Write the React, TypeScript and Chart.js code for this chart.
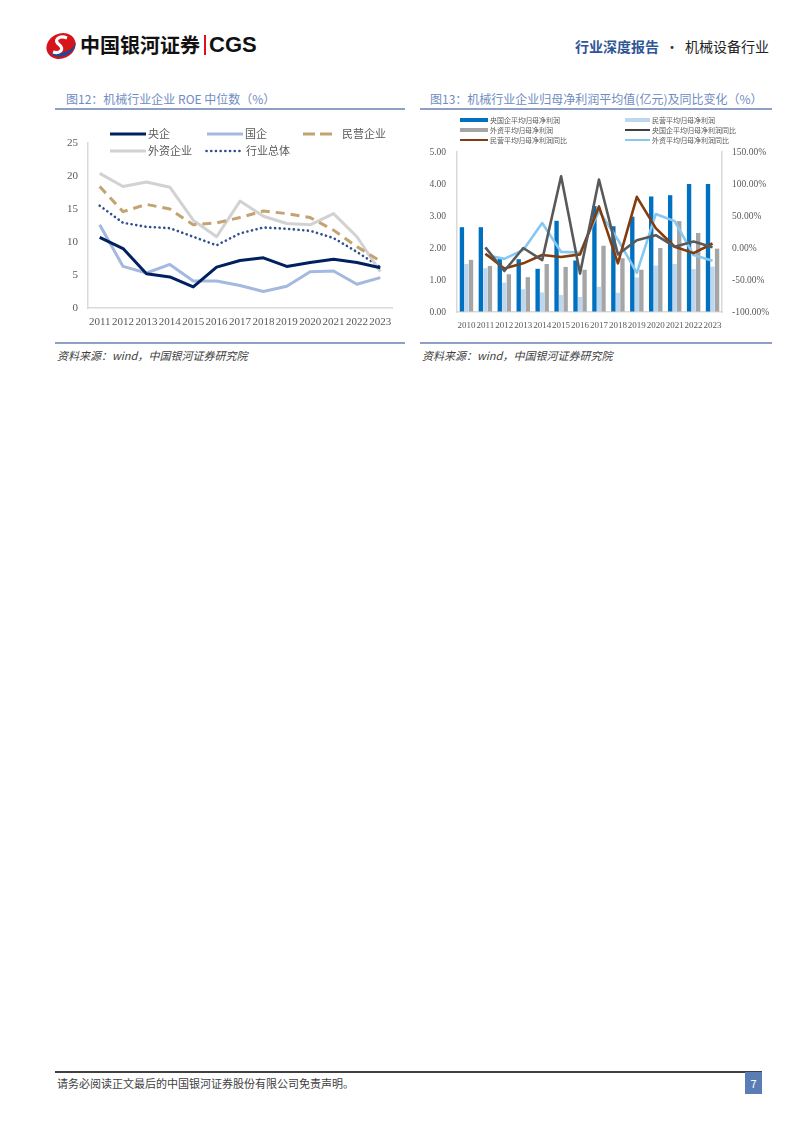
import React, { useEffect, useRef } from "react";
import { Chart, registerables } from "chart.js";
Chart.register(...registerables);

// ---------- Chart 1 data: ROE median (%) ----------
const roeYears = ["2011", "2012", "2013", "2014", "2015", "2016", "2017", "2018", "2019", "2020", "2021", "2022", "2023"];
const roeCentral = [10.7, 9.0, 5.2, 4.7, 3.2, 6.2, 7.2, 7.6, 6.3, 6.9, 7.4, 6.9, 6.1];
const roeState = [12.6, 6.3, 5.3, 6.6, 4.1, 4.1, 3.4, 2.5, 3.3, 5.5, 5.6, 3.6, 4.6];
const roePrivate = [18.4, 14.6, 15.7, 15.0, 12.6, 12.9, 13.7, 14.7, 14.3, 13.7, 11.8, 9.3, 7.1];
const roeForeign = [20.4, 18.4, 19.1, 18.3, 13.3, 10.8, 16.2, 13.9, 12.8, 12.6, 14.3, 10.8, 5.5];
const roeTotal = [15.5, 12.9, 12.3, 12.1, 10.8, 9.5, 11.3, 12.2, 12.0, 11.7, 10.6, 8.5, 6.2];
const roeTicks = [0, 5, 10, 15, 20, 25];

// ---------- Chart 2 data: avg net profit (亿元) and YoY (%) ----------
const npYears = ["2010", "2011", "2012", "2013", "2014", "2015", "2016", "2017", "2018", "2019", "2020", "2021", "2022", "2023"];
const npCentral = [2.65, 2.65, 1.68, 1.65, 1.35, 2.85, 1.61, 3.31, 2.68, 2.98, 3.61, 3.65, 4.0, 4.0];
const npPrivate = [1.5, 1.37, 0.92, 0.71, 0.61, 0.53, 0.47, 0.79, 0.6, 1.08, 1.45, 1.5, 1.34, 1.42];
const npForeign = [1.63, 1.44, 1.18, 1.09, 1.5, 1.41, 1.32, 2.07, 1.68, 1.32, 2.0, 2.84, 2.47, 1.98];
const yoyCentral = [null, 1, -36, 0, -19, 112, -40, 107, -10, 12, 20, 2, 10, 1];
const yoyPrivate = [null, -9, -32, -24, -11, -14, -10, 65, -24, 80, 31, 2, -8, 7];
const yoyForeign = [null, -11, -17, -3, 39, -6, -7, 58, 13, -39, 53, 42, -11, -20];
const leftTicks = [0, 1, 2, 3, 4, 5];
const rightTicks = [-100, -50, 0, 50, 100, 150];

const SERIF = "'Liberation Serif', 'Noto Sans CJK SC', serif";
const CJK = "'Noto Sans CJK SC', sans-serif";

Chart.defaults.font.family = SERIF;

function useChart(ref: React.RefObject<HTMLCanvasElement>, makeConfig: () => any) {
  useEffect(() => {
    if (!ref.current) return;
    const chart = new Chart(ref.current, makeConfig());
    return () => chart.destroy();
  }, []);
}

function RoeChart() {
  const ref = useRef<HTMLCanvasElement>(null);
  useChart(ref, () => ({
    type: "line",
    data: {
      labels: roeYears,
      datasets: [
        { label: "央企", data: roeCentral, borderColor: "#002060", borderWidth: 3 },
        { label: "国企", data: roeState, borderColor: "#A4B9DF", borderWidth: 3 },
        { label: "民营企业", data: roePrivate, borderColor: "#C4A372", borderWidth: 3, borderDash: [9, 6] },
        { label: "外资企业", data: roeForeign, borderColor: "#D2D2D2", borderWidth: 3 },
        { label: "行业总体", data: roeTotal, borderColor: "#2F4F8F", borderWidth: 2.6, borderDash: [0.1, 4.6], borderCapStyle: "round" },
      ],
    },
    options: {
      animation: false,
      responsive: false,
      events: [],
      layout: { padding: { top: 28, right: 13, left: 0, bottom: 0 } },
      plugins: { legend: { display: false }, tooltip: { enabled: false } },
      elements: { point: { radius: 0 }, line: { tension: 0, borderJoinStyle: "round" } },
      scales: {
        x: {
          offset: true,
          grid: { display: true, drawOnChartArea: false, drawTicks: false },
          border: { color: "#D9D9D9", width: 1.5 },
          ticks: { color: "#595959", font: { size: 11, family: SERIF }, padding: 8, autoSkip: false, maxRotation: 0 },
          afterFit: (s: any) => { s.height = 32; },
        },
        y: {
          min: 0,
          max: 25,
          afterBuildTicks: (s: any) => { s.ticks = roeTicks.map((v) => ({ value: v })); },
          grid: { display: true, drawOnChartArea: false, drawTicks: false },
          border: { color: "#D9D9D9", width: 1.5 },
          ticks: { color: "#595959", font: { size: 11, family: SERIF }, padding: 10 },
          afterFit: (s: any) => { s.width = 33; },
        },
      },
    },
  }));
  return <canvas ref={ref} width={350} height={225} />;
}

function ProfitChart() {
  const ref = useRef<HTMLCanvasElement>(null);
  useChart(ref, () => ({
    type: "bar",
    data: {
      labels: npYears,
      datasets: [
        { type: "line", label: "央国企平均归母净利润同比", data: yoyCentral, yAxisID: "y1", borderColor: "#595959", borderWidth: 2.6, order: 0 },
        { type: "line", label: "民营平均归母净利润同比", data: yoyPrivate, yAxisID: "y1", borderColor: "#843C0C", borderWidth: 2.6, order: 0 },
        { type: "line", label: "外资平均归母净利润同比", data: yoyForeign, yAxisID: "y1", borderColor: "#86C8F2", borderWidth: 2.6, order: 0 },
        { type: "bar", label: "央国企平均归母净利润", data: npCentral, yAxisID: "y", backgroundColor: "#0070C0", order: 1 },
        { type: "bar", label: "民营平均归母净利润", data: npPrivate, yAxisID: "y", backgroundColor: "#BDD7EE", order: 1 },
        { type: "bar", label: "外资平均归母净利润", data: npForeign, yAxisID: "y", backgroundColor: "#A5A5A5", order: 1 },
      ],
    },
    options: {
      animation: false,
      responsive: false,
      events: [],
      layout: { padding: { top: 37, right: 0, left: 0, bottom: 0 } },
      plugins: { legend: { display: false }, tooltip: { enabled: false } },
      elements: { point: { radius: 0 }, line: { tension: 0, borderJoinStyle: "round" } },
      datasets: { bar: { categoryPercentage: 0.72, barPercentage: 0.96 } },
      scales: {
        x: {
          offset: true,
          grid: { display: true, drawOnChartArea: false, drawTicks: false, offset: true },
          border: { color: "#D9D9D9", width: 1.5 },
          ticks: { color: "#595959", font: { size: 9, family: SERIF }, padding: 8, autoSkip: false, maxRotation: 0 },
          afterFit: (s: any) => { s.height = 28; },
        },
        y: {
          position: "left",
          min: 0,
          max: 5,
          afterBuildTicks: (s: any) => { s.ticks = leftTicks.map((v) => ({ value: v })); },
          grid: { display: true, drawOnChartArea: false, drawTicks: false },
          border: { color: "#D9D9D9", width: 1.5 },
          ticks: { color: "#595959", font: { size: 9.5, family: SERIF }, padding: 11, callback: (v: any) => Number(v).toFixed(2) },
          afterFit: (s: any) => { s.width = 37; },
        },
        y1: {
          position: "right",
          min: -100,
          max: 150,
          afterBuildTicks: (s: any) => { s.ticks = rightTicks.map((v) => ({ value: v })); },
          grid: { display: true, drawOnChartArea: false, drawTicks: false },
          border: { color: "#D9D9D9", width: 1.5 },
          ticks: { color: "#595959", font: { size: 9.5, family: SERIF }, padding: 10, callback: (v: any) => Number(v).toFixed(2) + "%" },
          afterFit: (s: any) => { s.width = 50; },
        },
      },
    },
  }));
  return <canvas ref={ref} width={352} height={225} />;
}

type LegendItem = { x: number; y: number; w: number; tx: number; label: string; kind: "line" | "dash" | "dot" | "bar"; color: string; thick?: number; size?: number };

function Legend({ items }: { items: LegendItem[] }) {
  return (
    <>
      {items.map((it, i) => (
        <React.Fragment key={i}>
          <svg style={{ position: "absolute", left: it.x, top: it.y - 4, width: it.w, height: 8 }} width={it.w} height={8}>
            {it.kind === "bar" ? (
              <rect x={0} y={2} width={it.w} height={4} fill={it.color} />
            ) : (
              <line
                x1={it.kind === "dot" ? 1.5 : 0}
                y1={4}
                x2={it.w}
                y2={4}
                stroke={it.color}
                strokeWidth={it.thick || 3}
                strokeDasharray={it.kind === "dash" ? "12 5" : it.kind === "dot" ? "0.1 4.6" : undefined}
                strokeLinecap={it.kind === "dot" ? "round" : "butt"}
              />
            )}
          </svg>
          <div
            style={{
              position: "absolute",
              left: it.tx,
              top: it.y - (it.size || 11) * 0.7,
              fontSize: it.size || 11,
              lineHeight: `${Math.round((it.size || 11) * 1.4)}px`,
              fontFamily: CJK,
              color: "#595959",
              whiteSpace: "nowrap",
            }}
          >
            {it.label}
          </div>
        </React.Fragment>
      ))}
    </>
  );
}

const legend1: LegendItem[] = [
  { x: 110, y: 134, w: 36, tx: 148, label: "央企", kind: "line", color: "#002060" },
  { x: 207, y: 134, w: 36, tx: 245, label: "国企", kind: "line", color: "#A4B9DF" },
  { x: 303, y: 134, w: 30, tx: 342, label: "民营企业", kind: "dash", color: "#C4A372" },
  { x: 110, y: 151, w: 36, tx: 148, label: "外资企业", kind: "line", color: "#D2D2D2" },
  { x: 205, y: 151, w: 37, tx: 246, label: "行业总体", kind: "dot", color: "#2F4F8F", thick: 2.6 },
];

const legend2: LegendItem[] = [
  { x: 460, y: 120, w: 28, tx: 490, label: "央国企平均归母净利润", kind: "bar", color: "#0070C0", size: 7 },
  { x: 625, y: 120, w: 25, tx: 652, label: "民营平均归母净利润", kind: "bar", color: "#BDD7EE", size: 7 },
  { x: 460, y: 130, w: 28, tx: 490, label: "外资平均归母净利润", kind: "bar", color: "#A5A5A5", size: 7 },
  { x: 625, y: 130, w: 25, tx: 652, label: "央国企平均归母净利润同比", kind: "line", color: "#404040", thick: 2, size: 7 },
  { x: 460, y: 140, w: 28, tx: 490, label: "民营平均归母净利润同比", kind: "line", color: "#843C0C", thick: 2, size: 7 },
  { x: 625, y: 140, w: 25, tx: 652, label: "外资平均归母净利润同比", kind: "line", color: "#86C8F2", thick: 2, size: 7 },
];

function abs(left: number, top: number, extra: React.CSSProperties = {}): React.CSSProperties {
  return { position: "absolute", left, top, ...extra };
}

export default function App() {
  const titleStyle: React.CSSProperties = { fontFamily: CJK, fontSize: 12, color: "#6F8CBF", whiteSpace: "nowrap", lineHeight: "16px" };
  const srcStyle: React.CSSProperties = { fontFamily: CJK, fontSize: 11, fontStyle: "italic", color: "#404040", whiteSpace: "nowrap", lineHeight: "14px" };
  return (
    <div style={{ position: "absolute", left: 0, top: 0, width: 802, height: 1133, background: "#fff", overflow: "hidden" }}>
      {/* Header logo */}
      <svg style={abs(44, 31)} width={34} height={30} viewBox="0 0 34 30">
        <ellipse cx="17" cy="15" rx="15" ry="12.5" fill="#D7141A" transform="rotate(-25 17 15)" />
        <path d="M5 21 C 12 30, 30 26, 32 11 C 28 21, 15 25, 5 21 Z" fill="#1B4A9B" />
        <path d="M23 7 C 15 4, 9 9, 15 13.5 C 21 18, 16 23, 9 21" stroke="#fff" strokeWidth={3.2} fill="none" />
      </svg>
      <div style={abs(80, 31, { fontFamily: CJK, fontWeight: 700, fontSize: 20, lineHeight: "28px", color: "#111", whiteSpace: "nowrap" })}>中国银河证券</div>
      <div style={abs(204, 35, { width: 1.5, height: 20, background: "#D7141A" })} />
      <div style={abs(209, 31, { fontFamily: "'Liberation Sans', Arial, sans-serif", fontWeight: 700, fontSize: 22, lineHeight: "28px", color: "#111" })}>CGS</div>

      <div style={abs(575, 36, { fontFamily: CJK, fontSize: 14, lineHeight: "20px", whiteSpace: "nowrap" })}>
        <span style={{ color: "#2F5597", fontWeight: 700 }}>行业深度报告</span>
        <span style={{ color: "#333", margin: "0 6px" }}>·</span>
        <span style={{ color: "#222" }}>机械设备行业</span>
      </div>

      {/* Chart 1 frame */}
      <div style={abs(66, 91, titleStyle)}>图12：机械行业企业 ROE 中位数（%）</div>
      <div style={abs(55, 108, { width: 350, height: 1.5, background: "#8EA0C4" })} />
      <div style={abs(55, 115)}>
        <RoeChart />
      </div>
      <Legend items={legend1} />
      <div style={abs(55, 342, { width: 350, height: 1.5, background: "#8EA0C4" })} />
      <div style={abs(57, 348, srcStyle)}>资料来源：wind，中国银河证券研究院</div>

      {/* Chart 2 frame */}
      <div style={abs(430, 91, titleStyle)}>图13：机械行业企业归母净利润平均值(亿元)及同比变化（%）</div>
      <div style={abs(420, 108, { width: 352, height: 1.5, background: "#8EA0C4" })} />
      <div style={abs(420, 115)}>
        <ProfitChart />
      </div>
      <Legend items={legend2} />
      <div style={abs(420, 342, { width: 352, height: 1.5, background: "#8EA0C4" })} />
      <div style={abs(422, 348, srcStyle)}>资料来源：wind，中国银河证券研究院</div>

      {/* Footer */}
      <div style={abs(55, 1071, { width: 707, height: 1.5, background: "#404040" })} />
      <div style={abs(57, 1076, { fontFamily: CJK, fontSize: 11, lineHeight: "14px", color: "#404040", whiteSpace: "nowrap" })}>
        请务必阅读正文最后的中国银河证券股份有限公司免责声明。
      </div>
      <div style={abs(745, 1072, { width: 17, height: 22, background: "#5A7DB6", color: "#fff", fontFamily: CJK, fontSize: 11, lineHeight: "22px", textAlign: "center" })}>7</div>
    </div>
  );
}
